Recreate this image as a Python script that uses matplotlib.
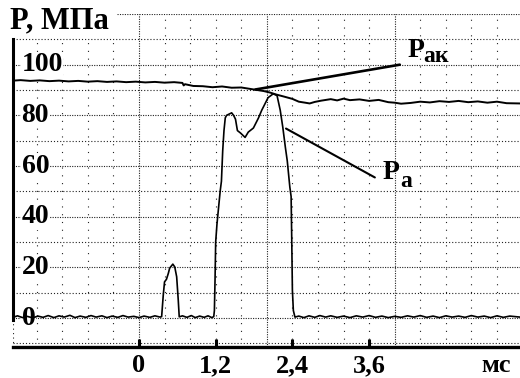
import matplotlib.pyplot as plt
import numpy as np

plt.rcParams['font.family'] = ['Liberation Serif', 'DejaVu Serif']
plt.rcParams['font.weight'] = 'bold'

# P_a trace, (t in ms, P in MPa)
pa_pts = [
    (-1.97, 0.3), (-1.90, 0.9), (-1.82, 0.2), (-1.75, 0.7), (-1.66, 0.1),
    (-1.58, 0.8), (-1.50, 0.3), (-1.42, 1.0), (-1.33, 0.2), (-1.25, 0.9),
    (-1.17, 0.4), (-1.08, 1.1), (-1.00, 0.2), (-0.92, 0.8), (-0.83, 0.3),
    (-0.75, 1.0), (-0.67, 0.4), (-0.58, 0.9), (-0.50, 0.2), (-0.42, 0.8),
    (-0.33, 0.3), (-0.25, 1.0), (-0.17, 0.4), (-0.08, 0.7), (0.00, 0.2),
    (0.08, 0.8), (0.17, 0.3), (0.25, 0.9), (0.33, 0.4), (0.355, 0.6),
    (0.38, 9.0), (0.40, 14.3), (0.43, 15.3), (0.46, 17.7), (0.48, 19.7),
    (0.53, 21.3), (0.56, 20.2), (0.59, 16.3), (0.615, 7.0), (0.63, 0.5),
    (0.68, 0.9), (0.75, 0.3), (0.82, 1.0), (0.88, 0.2), (0.95, 0.8),
    (1.02, 0.3), (1.08, 0.9), (1.14, 0.2), (1.17, 0.6), (1.18, 3.0),
    (1.19, 15.0), (1.20, 30.0), (1.22, 37.0), (1.27, 50.0), (1.29, 54.0),
    (1.31, 66.0), (1.33, 74.0), (1.35, 79.0), (1.37, 80.0), (1.45, 81.0),
    (1.48, 80.0), (1.51, 78.5), (1.54, 74.0), (1.59, 73.0), (1.66, 71.3),
    (1.71, 73.4), (1.79, 75.0), (1.87, 79.0), (1.92, 82.0), (1.97, 84.5),
    (2.02, 87.0), (2.10, 88.5), (2.16, 87.8), (2.21, 82.0), (2.25, 75.3),
    (2.29, 67.4), (2.32, 62.0), (2.36, 51.7), (2.38, 48.0), (2.39, 30.7),
    (2.40, 11.0), (2.415, 3.0), (2.44, 0.4), (2.50, 0.8), (2.58, 0.2),
    (2.66, 0.9), (2.75, 0.3), (2.83, 1.0), (2.92, 0.4), (3.00, 0.9),
    (3.10, 0.3), (3.20, 0.8), (3.30, 0.2), (3.40, 0.9), (3.50, 0.4),
    (3.60, 1.0), (3.70, 0.3), (3.80, 0.8), (3.90, 0.2), (4.00, 0.7),
    (4.10, 0.3), (4.20, 0.9), (4.30, 0.4), (4.40, 1.0), (4.50, 0.3),
    (4.60, 0.8), (4.70, 0.2), (4.80, 0.9), (4.90, 0.4), (5.00, 0.8),
    (5.10, 0.3), (5.20, 1.0), (5.30, 0.4), (5.40, 0.8), (5.50, 0.2),
    (5.60, 0.9), (5.70, 0.3), (5.80, 0.8), (5.96, 0.4),
]

# P_ak trace
pak_pts = [
    (-1.97, 93.7), (-1.85, 93.9), (-1.70, 93.6), (-1.55, 93.8), (-1.40, 93.5),
    (-1.25, 93.7), (-1.10, 93.4), (-0.95, 93.6), (-0.80, 93.3), (-0.65, 93.5),
    (-0.50, 93.2), (-0.35, 93.4), (-0.20, 93.1), (-0.05, 93.3), (0.10, 93.0),
    (0.25, 93.2), (0.40, 92.9), (0.55, 93.1), (0.68, 92.8), (0.70, 91.8),
    (0.72, 92.3), (0.85, 91.6), (1.00, 91.5), (1.15, 91.1), (1.30, 91.4),
    (1.45, 90.9), (1.60, 91.0), (1.75, 90.4), (1.85, 90.0), (1.95, 89.6),
    (2.05, 89.0), (2.15, 88.2), (2.27, 87.4), (2.40, 86.5), (2.50, 85.4),
    (2.60, 85.0), (2.67, 84.7), (2.75, 85.3), (2.85, 85.8), (3.00, 86.4),
    (3.10, 85.9), (3.20, 86.6), (3.30, 86.0), (3.45, 86.3), (3.60, 85.7),
    (3.75, 86.1), (3.90, 85.2), (4.00, 85.0), (4.10, 84.6), (4.25, 84.9),
    (4.40, 85.4), (4.55, 85.1), (4.70, 85.6), (4.85, 85.3), (5.00, 85.7),
    (5.15, 85.2), (5.30, 85.5), (5.45, 85.0), (5.60, 85.4), (5.75, 84.8),
    (5.96, 84.7),
]

xtick_pos = [0, 1.2, 2.4, 3.6, 5.59]
xtick_labels = ['0', '1,2', '2,4', '3,6', 'мс']
ytick_vals = [0, 20, 40, 60, 80, 100]

pa_t, pa_p = np.array(pa_pts).T
pak_t, pak_p = np.array(pak_pts).T

fig = plt.figure(figsize=(5.2, 3.78), dpi=100)
ax = fig.add_axes([0.025, 0.082, 0.975, 0.881])
x0, x1 = -1.97, 5.96
y0, y1 = -11.4, 120
ax.set_xlim(x0, x1)
ax.set_ylim(y0, y1)

# grid: dotted, denser every 2 ms; title corner kept blank
title_end = -0.34
for gx in np.arange(-1.6, 5.7, 0.4):
    gx = round(gx, 1)
    top = 120 if gx > title_end else 110.3
    if abs(gx) < 1e-6 or abs(gx - 2) < 1e-6 or abs(gx - 4) < 1e-6:
        ls = (0, (1, 1.2))
    else:
        ls = (0, (1, 6))
    ax.vlines(gx, y0, top, colors='#222222', lw=0.8, linestyles=[ls], zorder=1)
ax.vlines(x0, y0, 0, colors='#222222', lw=0.8, linestyles=[(0, (1, 3))], zorder=1)
for gy in range(-10, 120, 10):
    ls = (0, (1, 1.2)) if gy % 20 == 0 else (0, (1, 1.8))
    ax.hlines(gy, x0, x1, colors='#222222', lw=0.8, linestyles=[ls], zorder=1)
ax.hlines(120, title_end, x1, colors='#222222', lw=0.8,
          linestyles=[(0, (1, 1.2))], zorder=1)

ax.plot(pak_t, pak_p, color='black', lw=1.4, zorder=3)
ax.plot(pa_t, pa_p, color='black', lw=1.2, zorder=3)

# leader lines and labels
ax.annotate('', xy=(1.82, 90.2), xytext=(4.08, 100),
            arrowprops=dict(arrowstyle='-', lw=1.9, color='black',
                            shrinkA=0, shrinkB=0), zorder=4)
ax.annotate('', xy=(2.30, 74.8), xytext=(3.69, 55.5),
            arrowprops=dict(arrowstyle='-', lw=1.5, color='black',
                            shrinkA=0, shrinkB=0), zorder=4)
ax.text(4.20, 103.1, 'P', fontsize=20, ha='left', va='baseline')
ax.text(4.45, 100.9, 'ак', fontsize=17, ha='left', va='baseline')
ax.text(3.81, 55.0, 'P', fontsize=20, ha='left', va='baseline')
ax.text(4.08, 51.7, 'a', fontsize=17, ha='left', va='baseline')

for v in ytick_vals:
    ax.text(0.017, v, str(v), transform=ax.get_yaxis_transform(),
            fontsize=20, ha='left', va='center',
            bbox=dict(fc='white', ec='none', pad=0.3), zorder=2)

fig.text(0.019, 0.945, 'P, МПа', fontsize=22, ha='left', va='center')

ax.spines['top'].set_visible(False)
ax.spines['right'].set_visible(False)
ax.spines['left'].set_linewidth(2.2)
ax.spines['left'].set_bounds(-0.8, 110.2)
ax.spines['bottom'].set_linewidth(2.4)

ax.set_yticks([])
ax.set_xticks(xtick_pos, xtick_labels)
ax.tick_params(axis='x', direction='in', length=6, width=2.2, pad=5, labelsize=19)
ax.xaxis.get_major_ticks()[-1].tick1line.set_visible(False)

fig.savefig('out.png', dpi=100)
